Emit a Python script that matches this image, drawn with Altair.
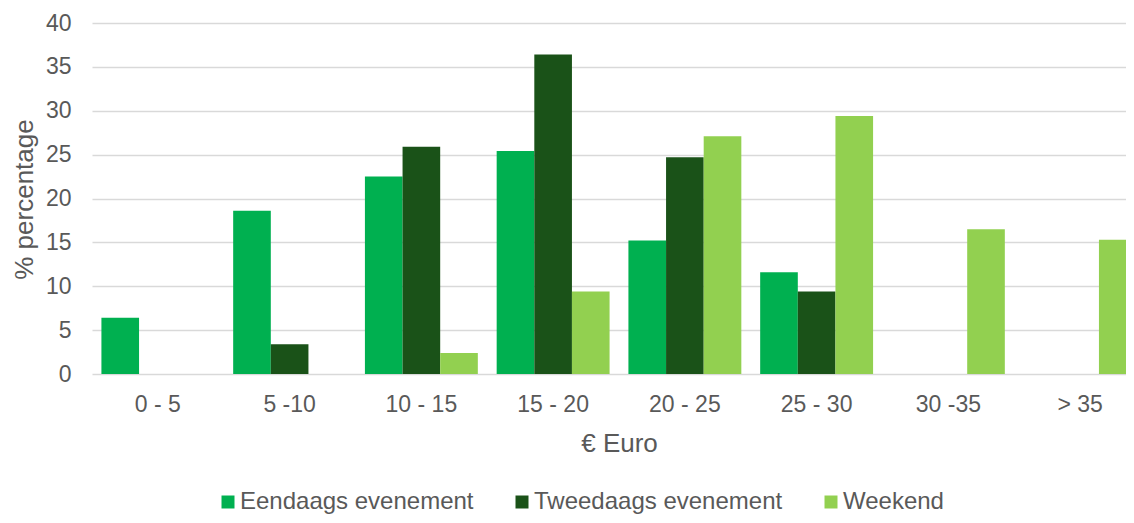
import altair as alt
import pandas as pd

categories = ["0 - 5", "5 -10", "10 - 15", "15 - 20", "20 - 25", "25 - 30", "30 -35", "> 35"]
series = ["Eendaags evenement", "Tweedaags evenement", "Weekend"]
eendaags = [6.4, 18.6, 22.5, 25.4, 15.2, 11.6, None, None]
tweedaags = [None, 3.4, 25.9, 36.4, 24.7, 9.4, None, None]
weekend = [None, None, 2.4, 9.4, 27.1, 29.4, 16.5, 15.3]
colors = ["#00B050", "#1A5218", "#92D050"]
y_ticks = [0, 5, 10, 15, 20, 25, 30, 35, 40]

rows = []
for name, vals in zip(series, [eendaags, tweedaags, weekend]):
    for cat, v in zip(categories, vals):
        if v is not None:
            rows.append({"category": cat, "series": name, "value": v})
df = pd.DataFrame(rows)

FONT = "Liberation Sans"
GRAY = "#595959"

chart = alt.Chart(df).mark_bar().encode(
    x=alt.X(
        "category:N",
        sort=categories,
        scale=alt.Scale(domain=categories, paddingInner=0.143, paddingOuter=0.0715),
        axis=alt.Axis(
            title="€ Euro",
            labelAngle=0,
            labelFont=FONT,
            labelFontSize=23,
            labelColor=GRAY,
            labelBaseline="alphabetic",
            labelPadding=37,
            ticks=False,
            tickSize=0,
            domain=False,
            titleFont=FONT,
            titleFontSize=26,
            titleFontWeight="normal",
            titleColor=GRAY,
            titleBaseline="alphabetic",
            titleY=77,
        ),
    ),
    xOffset=alt.XOffset("series:N", sort=series, scale=alt.Scale(domain=series, paddingInner=0, paddingOuter=0)),
    y=alt.Y(
        "value:Q",
        scale=alt.Scale(domain=[0, 40], nice=False),
        axis=alt.Axis(
            values=y_ticks,
            title="% percentage",
            labelFont=FONT,
            labelFontSize=23,
            labelColor=GRAY,
            labelPadding=21,
            ticks=False,
            tickSize=0,
            domain=False,
            grid=True,
            gridColor="#D9D9D9",
            gridWidth=1.3,
            titleFont=FONT,
            titleFontSize=26,
            titleFontWeight="normal",
            titleColor=GRAY,
            titleAngle=270,
            titleBaseline="alphabetic",
            titleAlign="center",
            titleX=-60,
            titleY=176,
        ),
    ),
    color=alt.Color(
        "series:N",
        sort=series,
        scale=alt.Scale(domain=series, range=colors),
        legend=alt.Legend(
            title=None,
            orient="none",
            legendX=124,
            legendY=467,
            direction="horizontal",
            symbolType="square",
            symbolSize=169,
            symbolStrokeWidth=0,
            labelFont=FONT,
            labelFontSize=24,
            labelColor=GRAY,
            labelOffset=0,
            labelLimit=500,
            columnPadding=36,
        ),
    ),
).properties(
    width=1054,
    height=351,
    autosize=alt.AutoSizeParams(type="none"),
    padding={"left": 84, "top": 15, "right": -20, "bottom": 141},
).configure_view(strokeWidth=0)

chart.save("out.html", embed_options={"renderer": "svg", "actions": False})
